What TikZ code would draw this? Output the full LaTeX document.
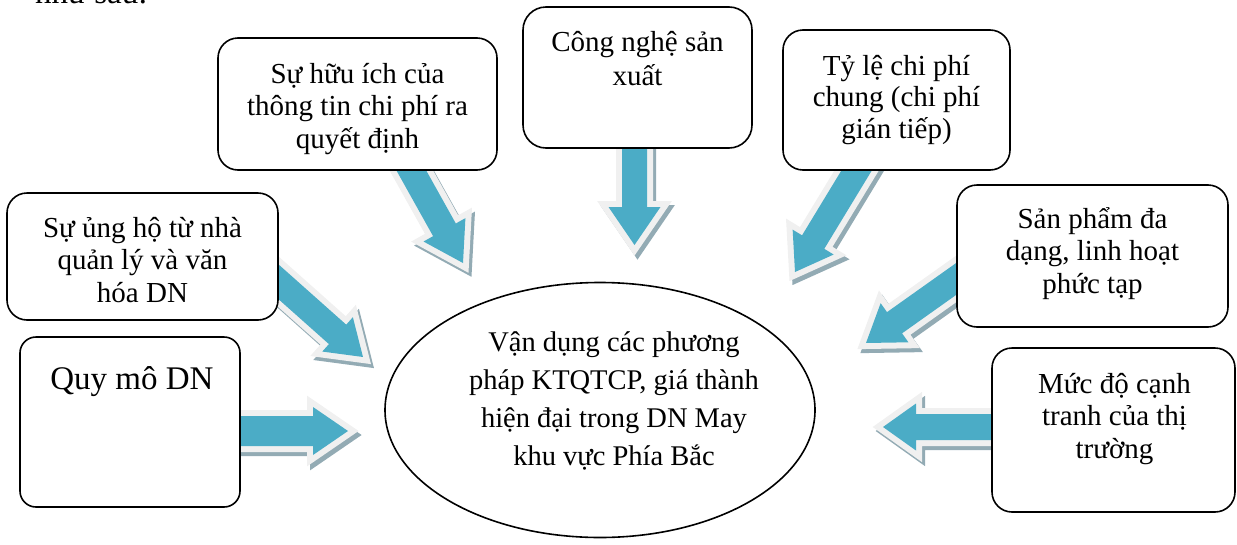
\documentclass[tikz,border=0pt]{standalone}
\usepackage{fontspec}
\setmainfont{Liberation Serif}
\usetikzlibrary{shapes.geometric}
\definecolor{arrowblue}{HTML}{4BACC6}
\definecolor{arrowrim}{HTML}{F0F0F0}
\definecolor{arrowshade}{HTML}{93ABB4}

% block arrow: #1,#2 tail; #3,#4 tip; #5 shaft width; #6 head width; #7 head length
\newcommand\blockarrow[7]{%
  \pgfmathsetmacro\baAng{atan2(-((#4)-(#2)),(#3)-(#1))}%
  \pgfmathsetmacro\baLen{veclen((#3)-(#1),(#4)-(#2))}%
  \pgfmathsetmacro\baNeck{\baLen-(#7)}%
  \pgfmathsetmacro\baS{(#5)/2}%
  \pgfmathsetmacro\baH{(#6)/2}%
  \def\baPath{(0,-\baS) -- (\baNeck,-\baS) -- (\baNeck,-\baH) -- (\baLen,0)
    -- (\baNeck,\baH) -- (\baNeck,\baS) -- (0,\baS) -- cycle}%
  \begin{scope}[shift={(#1+3,#2+4)}, rotate=\baAng]
    \filldraw[arrowshade, line width=12pt, line join=miter] \baPath;
  \end{scope}
  \begin{scope}[shift={(#1,#2)}, rotate=\baAng]
    \filldraw[arrowrim, line width=12pt, line join=miter] \baPath;
    \fill[arrowblue] \baPath;
  \end{scope}%
}

\begin{document}
\begin{tikzpicture}[x=1pt,y=-1pt,
  box/.style={draw, line width=1.6pt, fill=white, rounded corners=20pt, inner sep=0pt},
  % multi-line texts are placed by the baseline of their last line
  boxtext/.style={align=center, anchor=base, inner sep=0pt, font=\fontsize{29}{32.5}\selectfont},
]
\useasboundingbox (0,0) rectangle (1237,544);

% lead-in line of the surrounding paragraph
\node[anchor=base west, inner sep=0pt, font=\fontsize{33}{33}\selectfont] (intro) at (35,3) {như sau:};

% arrows pointing at the central ellipse
\blockarrow{401}{152}{463}{263}{26}{48}{38}
\blockarrow{634.5}{130}{634.5}{245}{25}{52}{38}
\blockarrow{866}{155}{795}{272}{26}{48}{35}
\blockarrow{263}{268}{363}{357}{26}{46}{34}
\blockarrow{973}{267}{866}{343}{26}{48}{35}
\blockarrow{220}{431}{348}{431}{30}{48}{35}
\blockarrow{1010}{427}{883}{427}{26}{47}{33}

% central ellipse
\node[ellipse, draw, line width=1.6pt, minimum width=430pt, minimum height=255pt, inner sep=0pt] (core) at (600,410) {};
\node[boxtext, font=\fontsize{28.5}{37.7}\selectfont] (coretext) at (614,465)
  {Vận dụng các phương\\pháp KTQTCP, giá thành\\hiện đại trong DN May\\khu vực Phía Bắc};

% factor boxes
\node[box, minimum width=279pt, minimum height=132pt] (b1) at (357.5,104) {};
\node[boxtext] (t1) at (357.5,148) {Sự hữu ích của\\thông tin chi phí ra\\quyết định};

\node[box, minimum width=229pt, minimum height=141pt, rounded corners=23pt] (b2) at (637.5,77.5) {};
\node[boxtext, font=\fontsize{29}{34}\selectfont] (t2) at (637.5,85) {Công nghệ sản\\xuất};

\node[box, minimum width=227pt, minimum height=140pt] (b3) at (896.5,100) {};
\node[boxtext, font=\fontsize{29}{31.5}\selectfont] (t3) at (896.5,138) {Tỷ lệ chi phí\\chung (chi phí\\gián tiếp)};

\node[box, minimum width=271pt, minimum height=127pt] (b4) at (142.5,256.5) {};
\node[boxtext] (t4) at (142.5,302) {Sự ủng hộ từ nhà\\quản lý và văn\\hóa DN};

\node[box, minimum width=271pt, minimum height=142pt] (b5) at (1092.5,256) {};
\node[boxtext] (t5) at (1092.5,293) {Sản phẩm đa\\dạng, linh hoạt\\phức tạp};

\node[box, minimum width=220pt, minimum height=170pt, rounded corners=16pt] (b6) at (130,422) {};
\node[boxtext, font=\fontsize{33}{38}\selectfont] (t6) at (132,389) {Quy mô DN};

\node[box, minimum width=243pt, minimum height=164pt] (b7) at (1113.5,430) {};
\node[boxtext] (t7) at (1114.5,458) {Mức độ cạnh\\tranh của thị\\trường};
\end{tikzpicture}
\end{document}
